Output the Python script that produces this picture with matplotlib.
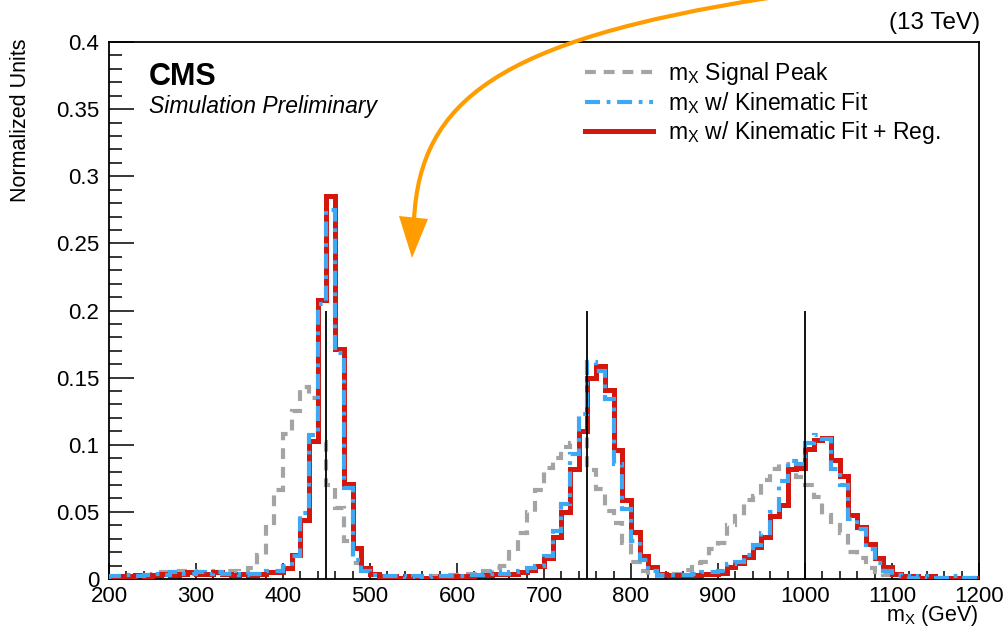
import numpy as np
import matplotlib
matplotlib.use('Agg')
import matplotlib.pyplot as plt
from matplotlib.lines import Line2D
from matplotlib.path import Path
from matplotlib.patches import PathPatch, Polygon
from matplotlib.ticker import MultipleLocator, FormatStrFormatter

plt.rcParams['font.family'] = ['Liberation Sans', 'DejaVu Sans']
plt.rcParams['mathtext.fontset'] = 'custom'
plt.rcParams['mathtext.rm'] = 'Liberation Sans'
plt.rcParams['mathtext.it'] = 'Liberation Sans:italic'
plt.rcParams['mathtext.bf'] = 'Liberation Sans:bold'

# ---------------- data (10 GeV bins, 200 - 1200 GeV) ----------------
bin_edges = np.arange(200, 1201, 10)

signal_peak = [
    0.001, 0.001, 0.002, 0.002, 0.003,                                   # 200-240
    0.004, 0.005, 0.005, 0.006, 0.006, 0.005, 0.006, 0.005, 0.006, 0.006,  # 250-340
    0.005, 0.008, 0.018, 0.042, 0.066, 0.108, 0.125, 0.143, 0.135, 0.102,  # 350-440
    0.070, 0.053, 0.028, 0.012, 0.006,                                   # 450-490
    0.003, 0.002, 0.002, 0.001, 0.001, 0.001, 0.002, 0.002, 0.002, 0.003,  # 500-590
    0.003, 0.004,                                                        # 600-610
    0.004, 0.006, 0.008, 0.010, 0.020, 0.034, 0.050, 0.066, 0.083, 0.090,  # 620-710
    0.098, 0.101, 0.107, 0.081, 0.067, 0.051, 0.042, 0.027, 0.013, 0.006,  # 720-810
    0.003, 0.002, 0.003,                                                 # 820-840
    0.004, 0.007, 0.012, 0.013, 0.022, 0.027, 0.040, 0.047, 0.059, 0.062,  # 850-940
    0.074, 0.082, 0.086, 0.081, 0.076, 0.070, 0.061, 0.048, 0.040, 0.034,  # 950-1040
    0.020, 0.0155, 0.008, 0.005, 0.003,                                  # 1050-1090
    0.002, 0.002, 0.001, 0.001, 0.001, 0.001, 0.001, 0.001, 0.001, 0.001,  # 1100-1190
]

kin_fit = [
    0.002, 0.002, 0.003, 0.002, 0.003, 0.004, 0.003, 0.005, 0.004, 0.004,  # 200-290
    0.005, 0.004, 0.005, 0.004, 0.004, 0.003, 0.004, 0.004, 0.006, 0.006,  # 300-390
    0.010, 0.017, 0.049, 0.107, 0.205, 0.275, 0.168, 0.068, 0.014, 0.006,  # 400-490
    0.003, 0.002, 0.002, 0.002, 0.001, 0.002, 0.001, 0.002, 0.002, 0.002,  # 500-590
    0.002, 0.003, 0.003, 0.004, 0.005,                                   # 600-640
    0.004, 0.005, 0.006, 0.008, 0.010, 0.017, 0.036, 0.056, 0.093, 0.123,  # 650-740
    0.162, 0.155, 0.134, 0.086, 0.052, 0.028, 0.014, 0.006, 0.003, 0.003,  # 750-840
    0.003, 0.003, 0.004, 0.005, 0.005, 0.006, 0.011, 0.013, 0.018, 0.025,  # 850-940
    0.034, 0.050, 0.073, 0.088, 0.086, 0.101, 0.107, 0.104, 0.082, 0.070,  # 950-1040
    0.045, 0.037, 0.022, 0.012, 0.006, 0.003,                            # 1050-1100
    0.002, 0.001, 0.002, 0.001, 0.001, 0.001, 0.002, 0.001, 0.001,         # 1110-1190
]

kin_fit_reg = [
    0.001, 0.002, 0.002, 0.003, 0.002, 0.003, 0.004, 0.003, 0.004, 0.005,  # 200-290
    0.004, 0.004, 0.005, 0.004, 0.003, 0.004, 0.003, 0.004, 0.005, 0.005,  # 300-390
    0.008, 0.018, 0.044, 0.103, 0.208, 0.285, 0.171, 0.071, 0.023, 0.008,  # 400-490
    0.004, 0.002, 0.002, 0.001, 0.002, 0.001, 0.001, 0.001, 0.002, 0.002,  # 500-590
    0.002, 0.002, 0.003, 0.003, 0.004,                                   # 600-640
    0.004, 0.004, 0.005, 0.007, 0.010, 0.016, 0.031, 0.050, 0.082, 0.110,  # 650-740
    0.150, 0.159, 0.141, 0.096, 0.059, 0.035, 0.017, 0.009, 0.004, 0.003,  # 750-840
    0.003, 0.003, 0.003, 0.004, 0.004, 0.0045, 0.009, 0.012, 0.0166, 0.024,  # 850-940
    0.0315, 0.047, 0.055, 0.082, 0.083, 0.097, 0.1035, 0.105, 0.089, 0.0765,  # 950-1040
    0.048, 0.0385, 0.026, 0.0155, 0.009, 0.004,                          # 1050-1100
    0.002, 0.002, 0.001, 0.002, 0.001, 0.001, 0.001, 0.001, 0.001,         # 1110-1190
]

true_masses = [450, 750, 1000]
true_mass_line_height = 0.2

labels = [r'm$_{\mathrm{X}}$ Signal Peak',
          r'm$_{\mathrm{X}}$ w/ Kinematic Fit',
          r'm$_{\mathrm{X}}$ w/ Kinematic Fit + Reg.']

# ---------------- styles ----------------
W, H = 1004, 629
c_gray = '#a4a4a4'
c_blue = '#3ea8f4'
c_red = '#d5160c'
ls_gray = (0, (2.6, 1.9))
ls_blue = (0, (3.6, 1.6, 0.9, 1.6))


def fp(x, y):
    return (x / W, 1 - y / H)


fig = plt.figure(figsize=(W / 100, H / 100), dpi=100)
ax = fig.add_axes([109 / W, 1 - 579 / H, (979 - 109) / W, (579 - 42) / H])

ax.stairs(signal_peak, bin_edges, color=c_gray, lw=3.0, linestyle=ls_gray, zorder=2)
ax.stairs(kin_fit_reg, bin_edges, color=c_red, lw=3.6, zorder=3)
ax.stairs(kin_fit, bin_edges, color=c_blue, lw=3.0, linestyle=ls_blue, zorder=4)
ax.vlines(true_masses, 0, true_mass_line_height, color='black', lw=1.3, zorder=5)

ax.set_xlim(200, 1200)
ax.set_ylim(0, 0.4)
ax.xaxis.set_major_locator(MultipleLocator(100))
ax.xaxis.set_minor_locator(MultipleLocator(20))
ax.yaxis.set_major_locator(MultipleLocator(0.05))
ax.yaxis.set_minor_locator(MultipleLocator(0.01))
ax.yaxis.set_major_formatter(FormatStrFormatter('%g'))
ax.tick_params(axis='both', which='both', direction='in', top=False, right=False,
               labelsize=16, width=1.1, color='black')
ax.tick_params(axis='x', which='major', length=11.5, pad=5)
ax.tick_params(axis='x', which='minor', length=5.5)
ax.tick_params(axis='y', which='major', length=18, pad=7)
ax.tick_params(axis='y', which='minor', length=9.5)
for s in ax.spines.values():
    s.set_linewidth(1.3)

# legend
handles = [
    Line2D([], [], color=c_gray, lw=3.0, linestyle=ls_gray),
    Line2D([], [], color=c_blue, lw=3.0, linestyle=ls_blue),
    Line2D([], [], color=c_red, lw=3.6),
]
leg = fig.legend(handles, labels, loc='upper left', bbox_to_anchor=fp(585, 60),
                 bbox_transform=fig.transFigure, frameon=False, fontsize=16.5,
                 handlelength=2.97, handletextpad=0.65, labelspacing=0.13,
                 borderpad=0, borderaxespad=0)

# texts
fig.text(*fp(149, 85), 'CMS', fontsize=22, fontweight='bold', va='baseline', ha='left')
fig.text(*fp(149, 113), 'Simulation Preliminary', fontsize=16.5, style='italic',
         va='baseline', ha='left')
fig.text(*fp(980, 29), '(13 TeV)', fontsize=17.5, ha='right', va='baseline')
fig.text(*fp(21, 120), 'Normalized Units', fontsize=15.5, rotation=90,
         ha='center', va='center')
fig.text(*fp(979, 621), r'm$_{\mathrm{X}}$ (GeV)', fontsize=15.5, ha='right', va='baseline')

# orange annotation arrow
verts = [fp(768, -2), fp(500, 40), fp(420, 100), fp(414, 220)]
codes = [Path.MOVETO, Path.CURVE4, Path.CURVE4, Path.CURVE4]
fig.add_artist(PathPatch(Path(verts, codes), transform=fig.transFigure, fill=False,
                         ec='#ff9c00', lw=3.0, capstyle='butt', clip_on=False))
fig.add_artist(Polygon([fp(399, 216), fp(428, 219), fp(412, 258)], closed=True,
                       transform=fig.transFigure, fc='#ff9c00', ec='none', clip_on=False))

fig.savefig('out.png', dpi=100)
